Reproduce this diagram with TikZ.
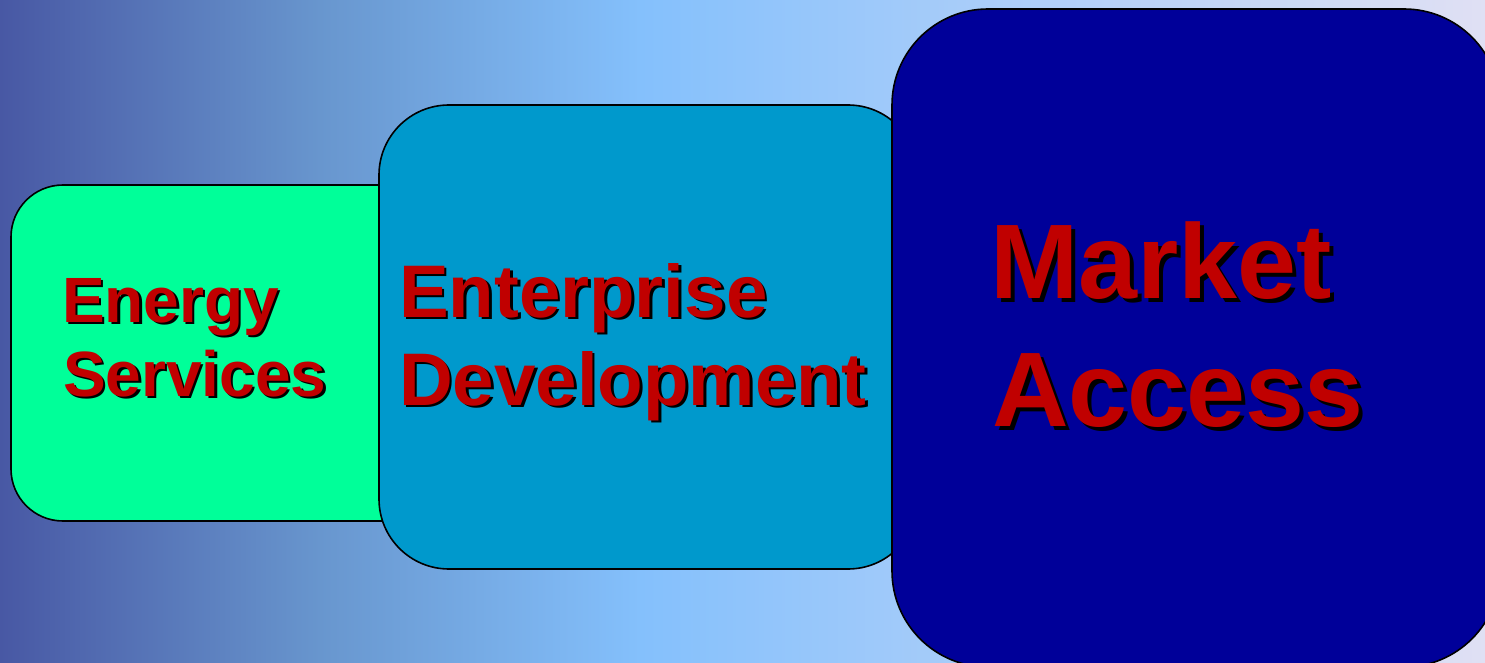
\documentclass[tikz,border=0pt]{standalone}
\usepackage{fontspec}
\setmainfont{Liberation Sans}
\definecolor{bgA}{RGB}{72,88,164}
\definecolor{bgB}{RGB}{104,150,206}
\definecolor{bgC}{RGB}{132,192,252}
\definecolor{bgD}{RGB}{224,224,244}
\definecolor{boxgreen}{RGB}{0,255,153}
\definecolor{boxteal}{RGB}{0,153,204}
\definecolor{boxnavy}{RGB}{0,0,153}
\definecolor{txtred}{RGB}{192,0,0}
\tikzset{
  panel/.style={draw=black, line width=1.6pt},
  lbl/.style={anchor=base west, inner sep=0pt, outer sep=0pt, text=txtred},
  lblshadow/.style={anchor=base west, inner sep=0pt, outer sep=0pt, text=black}
}
\newcommand\shadowtext[5]{% name, x, baseline y, size, text
  \node[lblshadow, font=\fontsize{#4}{#4}\selectfont\bfseries] (#1s) at ({#2+0.038*#4},{#3+0.038*#4}) {#5};
  \node[lbl, font=\fontsize{#4}{#4}\selectfont\bfseries] (#1) at (#2,#3) {#5};
}
\begin{document}
\begin{tikzpicture}[x=1pt,y=-1pt]
\useasboundingbox (0,0) rectangle (1485,663);
% background gradient
\shade[left color=bgA, right color=bgB] (0,0) rectangle (320,663);
\shade[left color=bgB, right color=bgC] (319.5,0) rectangle (640,663);
\shade[left color=bgC, right color=bgD] (639.5,0) rectangle (1485,663);
\begin{scope}
\clip (0,0) rectangle (1485,663);
% panels
\draw[panel, fill=boxgreen, rounded corners=52pt] (11,185) rectangle (450,521);
\draw[panel, fill=boxteal, rounded corners=70pt] (379,105) rectangle (918,569);
\draw[panel, fill=boxnavy, rounded corners=96pt] (892,9) rectangle (1500,667);
\end{scope}
% labels
\shadowtext{es1}{62}{322}{64}{Energy}
\shadowtext{es2}{63}{396}{64}{Services}
\shadowtext{ed1}{399}{317}{74.5}{Enterprise}
\shadowtext{ed2}{399}{405}{74.5}{Development}
\shadowtext{ma1}{990}{298}{106}{Market}
\shadowtext{ma2}{992}{426}{106}{Access}
\end{tikzpicture}
\end{document}
